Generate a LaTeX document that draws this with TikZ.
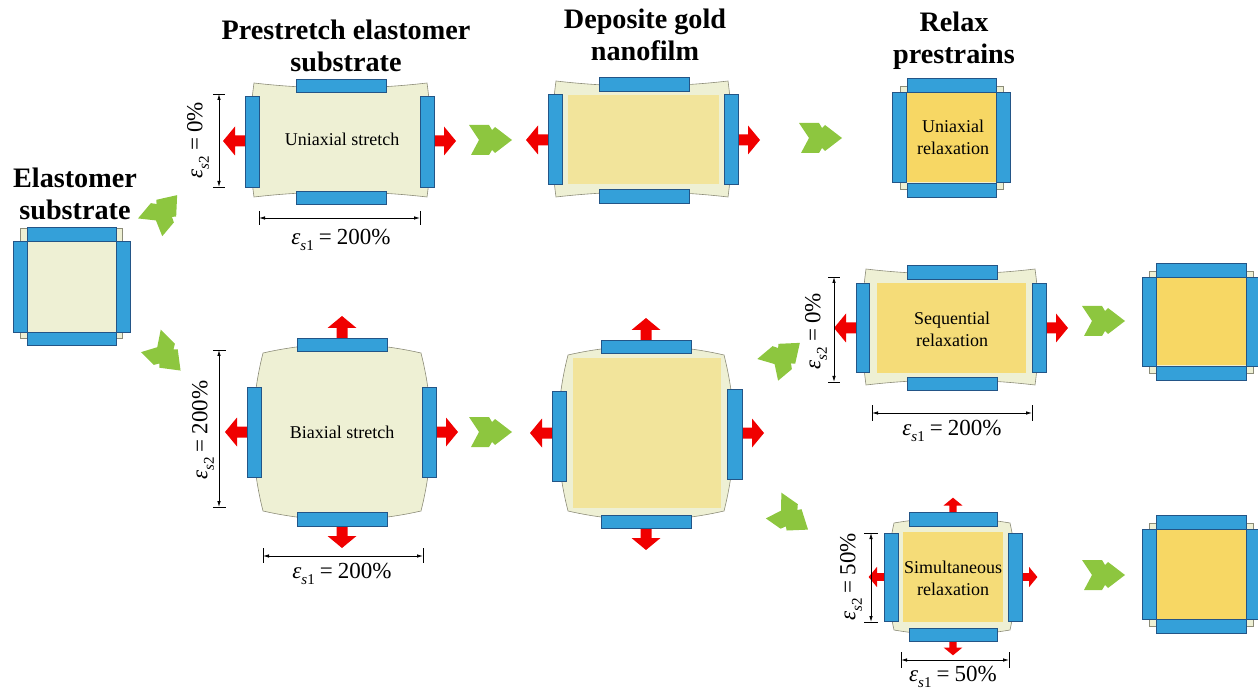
\documentclass[tikz,border=0pt]{standalone}
\usepackage{fontspec}
\setmainfont{Liberation Serif}
\usetikzlibrary{arrows.meta}
\definecolor{subfill}{RGB}{238,240,212}
\definecolor{subline}{RGB}{140,140,120}
\definecolor{barblue}{RGB}{52,160,217}
\definecolor{bardark}{RGB}{35,85,135}
\definecolor{goldlight}{RGB}{242,228,155}
\definecolor{goldmid}{RGB}{245,220,120}
\definecolor{golddark}{RGB}{247,215,100}
\definecolor{redfill}{RGB}{240,0,0}
\definecolor{greenfill}{RGB}{141,198,63}
\newcommand\epslab[2]{\textit{ε}\raisebox{-0.28em}{\fontsize{15}{15}\selectfont\textit{s}#1}\hspace{0.22em}=\hspace{0.22em}#2}
\newcommand\subshape[6]{%
  \pgfmathsetmacro\subXa{#1+(#3-#1)/3}\pgfmathsetmacro\subXb{#3-(#3-#1)/3}%
  \pgfmathsetmacro\subYa{#2+(#4-#2)/3}\pgfmathsetmacro\subYb{#4-(#4-#2)/3}%
  \pgfmathsetmacro\subT{#2-#6/0.75}\pgfmathsetmacro\subB{#4+#6/0.75}%
  \pgfmathsetmacro\subL{#1-#5/0.75}\pgfmathsetmacro\subR{#3+#5/0.75}%
  \filldraw[sub] (#1,#2) .. controls (\subXa,\subT) and (\subXb,\subT) .. (#3,#2)
    .. controls (\subR,\subYa) and (\subR,\subYb) .. (#3,#4)
    .. controls (\subXb,\subB) and (\subXa,\subB) .. (#1,#4)
    .. controls (\subL,\subYb) and (\subL,\subYa) .. (#1,#2) -- cycle;}
\tikzset{
  sub/.style={fill=subfill, draw=subline, line width=0.6pt},
  bar/.style={fill=barblue, draw=bardark, line width=0.8pt},
  goldA/.style={fill=goldlight},
  goldB/.style={fill=goldmid},
  goldC/.style={fill=golddark, draw=subfill, line width=1pt},
  title/.style={font=\fontsize{28.2}{32}\selectfont\bfseries, align=center, inner sep=0pt},
  inlab/.style={font=\fontsize{18}{22}\selectfont, align=center, inner sep=0pt},
  eps/.style={font=\fontsize{23}{26}\selectfont, inner sep=0pt},
  dimline/.style={line width=0.8pt, {Latex[length=6pt,width=3.5pt]}-{Latex[length=6pt,width=3.5pt]}},
  tick/.style={line width=0.8pt},
  rarr/.pic={\fill[redfill] (0,-5.5) -- (10,-5.5) -- (10,-14.5) -- (22,0) -- (10,14.5) -- (10,5.5) -- (0,5.5) -- cycle;},
  garr/.pic={\fill[greenfill] (-21,-15) -- (-1,-15) -- (2,-10) -- (5,-13) -- (22,0) -- (5,13) -- (2,10) -- (-1,15) -- (-19,15) -- (-11,0) -- cycle;}
}
\begin{document}
\begin{tikzpicture}[x=1pt,y=-1pt]
\useasboundingbox (0,0) rectangle (1258,692);
% ---------- titles
\node[title] (tElast) at (75,194) {Elastomer\\substrate};
\node[title] (tPre) at (346,46) {Prestretch elastomer\\substrate};
\node[title] (tDep) at (645,35) {Deposite gold\\nanofilm};
\node[title] (tRel) at (954,41) {Relax\\prestrains};
% ---------- elastomer substrate
\filldraw[sub] (20,228) rectangle (122,338);
\draw[bar] (27,227) rectangle (116,241);
\draw[bar] (27,332) rectangle (116,345);
\draw[bar] (13,241) rectangle (27,332);
\draw[bar] (116,241) rectangle (130,332);
% ---------- uniaxial stretch
\subshape{254}{83}{427}{197}{4}{-5}
\pic at (245,141) [rotate=180] {rarr};
\pic at (434,141) {rarr};
\draw[bar] (296,79) rectangle (386,92);
\draw[bar] (296,191) rectangle (386,204);
\draw[bar] (245,96) rectangle (259,187);
\draw[bar] (420,96) rectangle (434,187);
\node[inlab] (lUni) at (342,139) {Uniaxial stretch};
\draw[dimline] (219,94) -- (219,187);
\draw[tick] (213,94) -- (225,94) (213,187) -- (225,187);
\node[eps, rotate=90] (eU2) at (198,140) {\epslab{2}{0\%}};
\draw[dimline] (259,218) -- (420,218);
\draw[tick] (259,211) -- (259,225) (420,211) -- (420,225);
\node[eps] (eU1) at (341,240) {\epslab{1}{200\%}};
% ---------- biaxial stretch
\subshape{263}{353}{421}{511}{10}{9}
\pic at (247,432) [rotate=180] {rarr};
\pic at (436,432) {rarr};
\pic at (342,338) [rotate=90] {rarr};
\pic at (342,526) [rotate=-90] {rarr};
\draw[bar] (297,338) rectangle (387,351);
\draw[bar] (297,512) rectangle (387,526);
\draw[bar] (247,387) rectangle (261,477);
\draw[bar] (422,387) rectangle (436,477);
\node[inlab] (lBi) at (342,432) {Biaxial stretch};
\draw[dimline] (219,350) -- (219,507);
\draw[tick] (213,350) -- (226,350) (213,507) -- (226,507);
\node[eps, rotate=90] (eB2) at (203,430) {\epslab{2}{200\%}};
\draw[dimline] (263,556) -- (423,556);
\draw[tick] (263,548) -- (263,563) (423,548) -- (423,563);
\node[eps] (eB1) at (342,574) {\epslab{1}{200\%}};
% ---------- deposit uniaxial
\subshape{556}{81}{728}{197}{4}{-5}
\fill[goldA] (568,95) rectangle (719,184);
\pic at (548,140) [rotate=180] {rarr};
\pic at (738,140) {rarr};
\draw[bar] (599,77) rectangle (689,91);
\draw[bar] (599,189) rectangle (689,203);
\draw[bar] (548,94) rectangle (562,184);
\draw[bar] (724,94) rectangle (738,184);
% ---------- deposit biaxial
\subshape{568}{355}{724}{511}{10}{9}
\fill[goldA] (573,358) rectangle (721,508);
\pic at (552,433) [rotate=180] {rarr};
\pic at (742,433) {rarr};
\pic at (646,340) [rotate=90] {rarr};
\pic at (646,528) [rotate=-90] {rarr};
\draw[bar] (601,340) rectangle (691,353);
\draw[bar] (601,515) rectangle (691,528);
\draw[bar] (552,391) rectangle (566,481);
\draw[bar] (727,389) rectangle (742,479);
% ---------- relax uniaxial
\filldraw[sub] (900,86) rectangle (1003,189);
\filldraw[goldC] (906,92) rectangle (996,183);
\draw[bar] (907,78) rectangle (996,92);
\draw[bar] (907,183) rectangle (996,197);
\draw[bar] (892,92) rectangle (906,182);
\draw[bar] (996,92) rectangle (1010,182);
\node[inlab] (lUR) at (953,137) {Uniaxial\\relaxation};
% ---------- sequential relaxation
\subshape{866}{269}{1035}{385}{4}{-5}
\fill[goldB] (877,283) rectangle (1026,373);
\pic at (856,328) [rotate=180] {rarr};
\pic at (1046,328) {rarr};
\draw[bar] (907,265) rectangle (997,279);
\draw[bar] (907,377) rectangle (997,390);
\draw[bar] (856,283) rectangle (869,372);
\draw[bar] (1032,283) rectangle (1046,372);
\node[inlab] (lSeq) at (952,329) {Sequential\\relaxation};
\draw[dimline] (834,277) -- (834,382);
\draw[tick] (828,277) -- (840,277) (828,382) -- (840,382);
\node[eps, rotate=90] (eS2) at (816,331) {\epslab{2}{0\%}};
\draw[dimline] (872,413) -- (1032,413);
\draw[tick] (872,405) -- (872,421) (1032,405) -- (1032,421);
\node[eps] (eS1) at (952,431) {\epslab{1}{200\%}};
% ---------- simultaneous relaxation
\subshape{894}{523}{1010}{630}{6}{5}
\fill[goldB] (903,532) rectangle (1003,622);
\pic at (884,577) [rotate=180, scale=0.7] {rarr};
\pic at (1022,577) [scale=0.7] {rarr};
\pic at (953,512) [rotate=90, scale=0.65] {rarr};
\pic at (953,641) [rotate=-90, scale=0.65] {rarr};
\draw[bar] (909,512) rectangle (997,526);
\draw[bar] (909,628) rectangle (997,641);
\draw[bar] (884,533) rectangle (898,621);
\draw[bar] (1008,533) rectangle (1022,621);
\node[inlab] (lSim) at (953,578) {Simultaneous\\relaxation};
\draw[dimline] (871,533) -- (871,622);
\draw[tick] (864,533) -- (878,533) (864,622) -- (878,622);
\node[eps, rotate=90] (eM2) at (851,577) {\epslab{2}{50\%}};
\draw[dimline] (901,660) -- (1009,660);
\draw[tick] (901,652) -- (901,668) (1009,652) -- (1009,668);
\node[eps] (eM1) at (953,677) {\epslab{1}{50\%}};
% ---------- final squares
\filldraw[sub] (1149,271) rectangle (1253,373);
\filldraw[goldC] (1156,277) rectangle (1246,366);
\draw[bar] (1156,263) rectangle (1246,277);
\draw[bar] (1156,366) rectangle (1246,380);
\draw[bar] (1142,277) rectangle (1156,366);
\draw[bar] (1246,277) rectangle (1260,366);
\filldraw[sub] (1149,523) rectangle (1253,626);
\filldraw[goldC] (1156,529) rectangle (1246,619);
\draw[bar] (1156,515) rectangle (1246,529);
\draw[bar] (1156,619) rectangle (1246,633);
\draw[bar] (1142,529) rectangle (1156,619);
\draw[bar] (1246,529) rectangle (1260,619);
% ---------- green process arrows
\pic at (163,212) [rotate=50] {garr};
\pic at (165,355) [rotate=-45] {garr};
\pic at (490,140) {garr};
\pic at (820,138) {garr};
\pic at (490,432) {garr};
\pic at (783,357) [rotate=40] {garr};
\pic at (790,517) [rotate=-35] {garr};
\pic at (1103,321) {garr};
\pic at (1103,575) {garr};
\end{tikzpicture}
\end{document}
